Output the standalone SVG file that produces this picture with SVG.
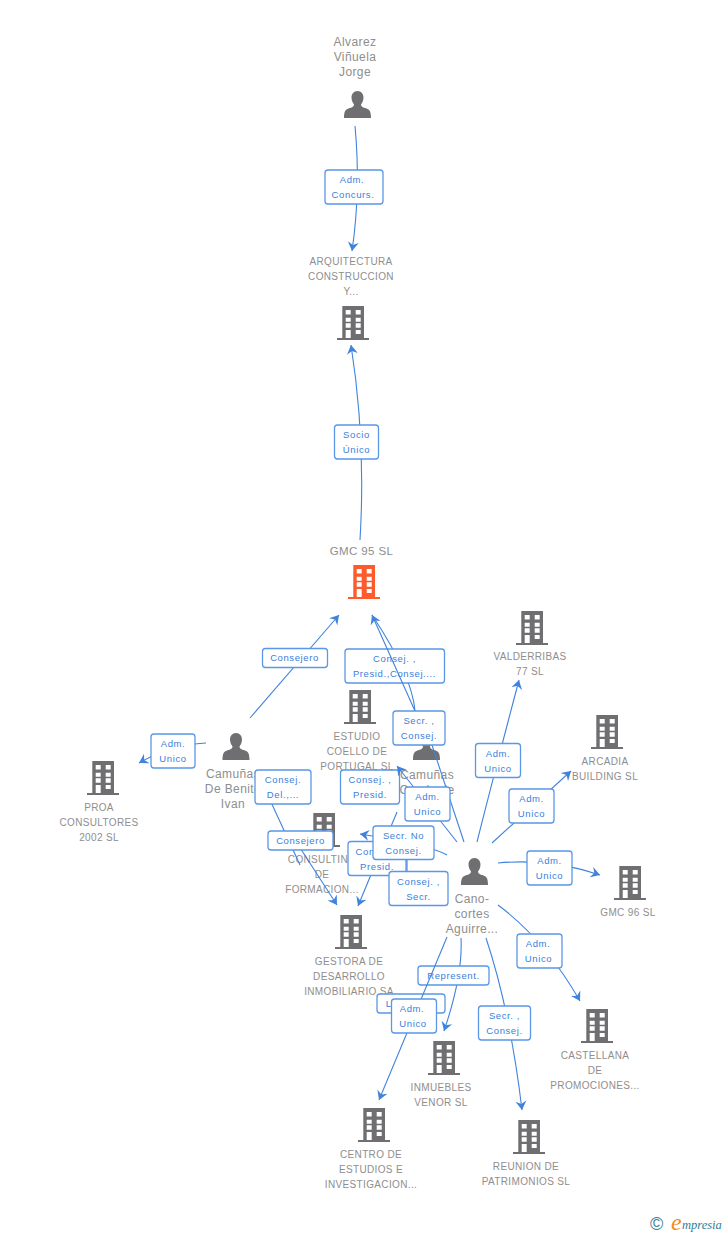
<svg xmlns="http://www.w3.org/2000/svg" width="728" height="1235" viewBox="0 0 728 1235">
<style>
text{font-family:"Liberation Sans",Arial,sans-serif}
.n{font-size:10px;fill:#8e8e8e;text-anchor:middle;letter-spacing:.35px}
.p{font-size:12px;fill:#8e8e8e;text-anchor:middle;letter-spacing:.4px}
.l{font-size:9.5px;fill:#3a80dc;text-anchor:middle;letter-spacing:.6px}
.b{fill:#fff;stroke:#5a97e6;stroke-width:1.3}
.c{fill:none;stroke:#3f83dd;stroke-width:1.1}
.a{marker-end:url(#ah)}
</style>
<defs>
<marker id="ah" markerUnits="userSpaceOnUse" markerWidth="12" markerHeight="12" refX="9" refY="6" orient="auto"><path d="M9,6 L0,.5 L3,6 L0,11.5 Z" fill="#3f83dd"/></marker>
<path id="bld" fill-rule="evenodd" d="M5.3,0H27V32H32V34H0V32H5.3ZM8.7,4V8.5H13.7V4ZM18.7,4V8.5H23.7V4ZM8.7,11.7V15.7H13.7V11.7ZM18.7,11.7V15.7H23.7V11.7ZM8.7,17.3V21.7H13.7V17.3ZM18.7,17.3V21.7H23.7V17.3ZM8.7,24V32H13.7V24ZM18.7,24V28H23.7V24Z"/>
<path id="psn" d="M13.5,0C17.3,0 19.5,3 19.5,6.5C19.5,10 18,12 17,13.5C17,16 19.5,16.5 22,17.3C25,18.3 27,19.5 27,27H0C0,19.5 2,18.3 5,17.3C7.5,16.5 10,16 10,13.5C9,12 7.5,10 7.5,6.5C7.5,3 9.7,0 13.5,0Z"/>
</defs>
<g id="nodes">
<g id="n-alvarez"><text class="p" x="355" y="46">Alvarez</text><text class="p" x="355" y="61">Viñuela</text><text class="p" x="355" y="76">Jorge</text><use href="#psn" x="344" y="91" fill="#6f6f72"/></g>
<g id="n-arquitectura"><text class="n" x="351" y="265">ARQUITECTURA</text><text class="n" x="351" y="280">CONSTRUCCION</text><text class="n" x="351" y="295">Y...</text><use href="#bld" x="337" y="306" fill="#6f6f72"/></g>
<g id="n-gmc95"><text class="p" x="361.500" y="555" style="font-size:11.500px">GMC 95 SL</text><use href="#bld" x="348" y="565" fill="#ff5a2c"/></g>
<g id="n-estudio"><use href="#bld" x="344" y="690" fill="#6f6f72"/><text class="n" x="357" y="740">ESTUDIO</text><text class="n" x="357" y="755">COELLO DE</text><text class="n" x="357" y="770">PORTUGAL SL</text></g>
<g id="n-camunas-l"><use href="#psn" x="222.500" y="733" fill="#6f6f72"/><text class="p" x="233" y="778">Camuñas</text><text class="p" x="233" y="793">De Benito</text><text class="p" x="233" y="808">Ivan</text></g>
<g id="n-camunas-r"><use href="#psn" x="413" y="733" fill="#6f6f72"/><text class="p" x="427" y="779">Camuñas</text><text class="p" x="427" y="794">Conde de</text><text class="p" x="427" y="809">A...</text></g>
<g id="n-proa"><use href="#bld" x="87" y="761" fill="#6f6f72"/><text class="n" x="99" y="811">PROA</text><text class="n" x="99" y="826">CONSULTORES</text><text class="n" x="99" y="841">2002 SL</text></g>
<g id="n-consulting"><use href="#bld" x="308" y="813" fill="#6f6f72"/><text class="n" x="322" y="863">CONSULTING</text><text class="n" x="322" y="878">DE</text><text class="n" x="322" y="893">FORMACION...</text></g>
<g id="n-gestora"><use href="#bld" x="335" y="915" fill="#6f6f72"/><text class="n" x="349" y="965">GESTORA DE</text><text class="n" x="349" y="980">DESARROLLO</text><text class="n" x="349" y="995">INMOBILIARIO SA</text></g>
<g id="n-cano"><use href="#psn" x="461" y="858" fill="#6f6f72"/><text class="p" x="472" y="903">Cano-</text><text class="p" x="472" y="918">cortes</text><text class="p" x="472" y="933">Aguirre...</text></g>
<g id="n-valderribas"><use href="#bld" x="516" y="611" fill="#6f6f72"/><text class="n" x="530" y="660">VALDERRIBAS</text><text class="n" x="530" y="675">77 SL</text></g>
<g id="n-arcadia"><use href="#bld" x="591" y="715" fill="#6f6f72"/><text class="n" x="605" y="765">ARCADIA</text><text class="n" x="605" y="780">BUILDING SL</text></g>
<g id="n-gmc96"><use href="#bld" x="614" y="866" fill="#6f6f72"/><text class="n" x="628" y="916">GMC 96 SL</text></g>
<g id="n-castellana"><use href="#bld" x="581" y="1009" fill="#6f6f72"/><text class="n" x="595" y="1059">CASTELLANA</text><text class="n" x="595" y="1074">DE</text><text class="n" x="595" y="1089">PROMOCIONES...</text></g>
<g id="n-inmuebles"><use href="#bld" x="428" y="1041" fill="#6f6f72"/><text class="n" x="441" y="1091">INMUEBLES</text><text class="n" x="441" y="1106">VENOR SL</text></g>
<g id="n-reunion"><use href="#bld" x="513" y="1120" fill="#6f6f72"/><text class="n" x="526" y="1170">REUNION DE</text><text class="n" x="526" y="1185">PATRIMONIOS SL</text></g>
<g id="n-centro"><use href="#bld" x="358" y="1108" fill="#6f6f72"/><text class="n" x="371" y="1158">CENTRO DE</text><text class="n" x="371" y="1173">ESTUDIOS E</text><text class="n" x="371" y="1188">INVESTIGACION...</text></g>
</g>
<g id="connectors">
<path class="c a" d="M355,126Q361,190 352,251"/>
<rect class="b" x="325" y="170" width="58" height="34" rx="3"/><text class="l" x="352" y="183">Adm.</text><text class="l" x="353" y="198">Concurs.</text>
<path class="c a" d="M360,540Q366,440 351,345"/>
<rect class="b" x="334.500" y="425" width="44" height="34" rx="3"/><text class="l" x="356.500" y="438">Socio</text><text class="l" x="356.500" y="453">Único</text>
<path class="c a" d="M250,718L339,615"/>
<rect class="b" x="262.500" y="648.500" width="65" height="19" rx="3"/><text class="l" x="294.500" y="661">Consejero</text>
<path class="c a" d="M206,743Q170,745 139,763"/>
<rect class="b" x="151" y="734" width="44" height="34" rx="3"/><text class="l" x="173" y="747">Adm.</text><text class="l" x="173" y="762">Unico</text>
<path class="c" d="M415,711Q412,675 372,615"/>
<rect class="b" x="345" y="649" width="99.500" height="34" rx="3"/><text class="l" x="394.500" y="662">Consej. ,</text><text class="l" x="394.500" y="677">Presid.,Consej....</text>
<path class="c" d="M464,842L432,745"/>
<path class="c a" d="M415,711L372,615"/>
<rect class="b" x="393" y="711" width="52" height="34" rx="3"/><text class="l" x="419" y="724">Secr. ,</text><text class="l" x="419" y="739">Consej.</text>
<path class="c" d="M300,865L270,800"/>
<rect class="b" x="255" y="770" width="56" height="34" rx="3"/><text class="l" x="283" y="783">Consej.</text><text class="l" x="283" y="798">Del.,...</text>
<rect class="b" x="340.500" y="770" width="59" height="34" rx="3"/><text class="l" x="370" y="783">Consej. ,</text><text class="l" x="370" y="798">Presid.</text>
<path class="c a" d="M457,842L397,766"/>
<rect class="b" x="405" y="787" width="45" height="34" rx="3"/><text class="l" x="427.500" y="800">Adm.</text><text class="l" x="427.500" y="815">Unico</text>
<path class="c a" d="M397,812L358,906"/>
<rect class="b" x="348" y="841.500" width="58" height="34" rx="3"/><text class="l" x="377" y="854.500">Consej. ,</text><text class="l" x="377" y="869.500">Presid.</text>
<path class="c a" d="M447,855Q430,845 360,834"/>
<rect class="b" x="373" y="826" width="61" height="33.500" rx="3"/><text class="l" x="403.500" y="839">Secr. No</text><text class="l" x="403.500" y="854">Consej.</text>
<path class="c" d="M407,860V906"/>
<rect class="b" x="389" y="871.500" width="59" height="34" rx="3"/><text class="l" x="418.500" y="884.500">Consej. ,</text><text class="l" x="418.500" y="899.500">Secr.</text>
<path class="c a" d="M295,840L337,905"/>
<rect class="b" x="268" y="831" width="65" height="19" rx="3"/><text class="l" x="300.500" y="844">Consejero</text>
<path class="c a" d="M477,842Q490,790 519,680"/>
<rect class="b" x="475.500" y="743.500" width="45" height="34" rx="3"/><text class="l" x="498" y="757">Adm.</text><text class="l" x="498" y="772">Unico</text>
<path class="c a" d="M492,843L571,771"/>
<rect class="b" x="509" y="789" width="45" height="34" rx="3"/><text class="l" x="531.500" y="802">Adm.</text><text class="l" x="531.500" y="817">Unico</text>
<path class="c a" d="M498,863Q550,858 600,875"/>
<rect class="b" x="527" y="851" width="45" height="34" rx="3"/><text class="l" x="549.500" y="864">Adm.</text><text class="l" x="549.500" y="879">Unico</text>
<path class="c a" d="M498,905Q545,940 580,1001"/>
<rect class="b" x="517" y="934" width="45" height="34" rx="3"/><text class="l" x="538" y="947">Adm.</text><text class="l" x="538.500" y="962">Unico</text>
<path class="c a" d="M486,938Q510,1010 522,1110"/>
<rect class="b" x="478.500" y="1006" width="52" height="34" rx="3"/><text class="l" x="504.500" y="1019">Secr. ,</text><text class="l" x="504.500" y="1034">Consej.</text>
<path class="c a" d="M461,938Q463,975 444,1031"/>
<rect class="b" x="377" y="994" width="68" height="19" rx="3"/><text class="l" x="411" y="1007">Liquidador</text>
<rect class="b" x="418" y="966" width="71" height="19" rx="3"/><text class="l" x="453.500" y="979">Represent.</text>
<path class="c a" d="M447,937L379,1100"/>
<rect class="b" x="391.500" y="999" width="45" height="34" rx="3"/><text class="l" x="412" y="1012">Adm.</text><text class="l" x="413" y="1027">Unico</text>
</g>
<g id="logo"><text x="650" y="1230" fill="#3f7d99" style="font-size:18px">©</text><text x="671" y="1230" style="font-family:'Liberation Serif',serif;font-style:italic;font-size:24px" fill="#f08a1d">e</text><text x="682" y="1229" style="font-family:'Liberation Serif',serif;font-style:italic;font-size:12.500px" fill="#2e7c96">mpresia</text></g>
</svg>
